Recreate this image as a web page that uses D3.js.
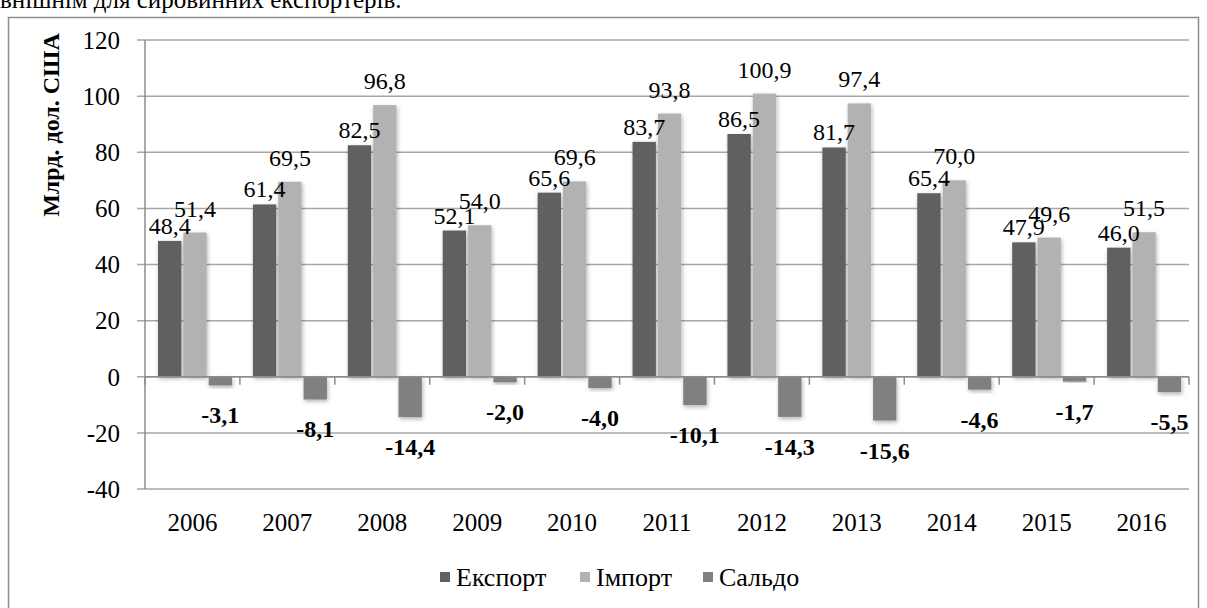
<!DOCTYPE html>
<html>
<head>
<meta charset="utf-8">
<script src="https://cdn.jsdelivr.net/npm/d3@7"></script>
<style>
  body { margin: 0; background: #fff; }
</style>
</head>
<body>
<script>
// chart data
var years = ["2006", "2007", "2008", "2009", "2010", "2011", "2012", "2013", "2014", "2015", "2016"];
var exportVals = [48.4, 61.4, 82.5, 52.1, 65.6, 83.7, 86.5, 81.7, 65.4, 47.9, 46.0];
var importVals = [51.4, 69.5, 96.8, 54.0, 69.6, 93.8, 100.9, 97.4, 70.0, 49.6, 51.5];
var saldoVals = [-3.1, -8.1, -14.4, -2.0, -4.0, -10.1, -14.3, -15.6, -4.6, -1.7, -5.5];
var seriesNames = ["Експорт", "Імпорт", "Сальдо"];
var yTicks = [-40, -20, 0, 20, 40, 60, 80, 100, 120];

var colors = ["#606060", "#b2b2b2", "#808080"];
var W = 1207, H = 608;
var serif = "'Liberation Serif', 'Times New Roman', Times, serif";

var svg = d3.select("body").append("svg")
    .attr("width", W)
    .attr("height", H)
    .style("font-family", serif);

var defs = svg.append("defs");
var f = defs.append("filter").attr("id", "shadow")
    .attr("x", "-30%").attr("y", "-30%").attr("width", "160%").attr("height", "160%");
f.append("feDropShadow")
    .attr("dx", 1).attr("dy", 2).attr("stdDeviation", 2)
    .attr("flood-color", "#000").attr("flood-opacity", 0.3);

// text cut off at the top of the page
svg.append("text")
    .attr("x", 0).attr("y", 8)
    .style("font-size", "25px")
    .text("внішнім для сировинних експортерів.");

// chart frame
svg.append("rect")
    .attr("x", 8.5).attr("y", 17.5)
    .attr("width", 1190).attr("height", 620)
    .attr("fill", "none")
    .attr("stroke", "#8c8c8c")
    .attr("stroke-width", 1.5);

var x = d3.scaleBand().domain(years).range([145, 1189]);
var x1 = d3.scaleBand().domain(seriesNames).range([13, 87]).paddingInner(0.08);
var y = d3.scaleLinear().domain([-40, 120]).range([489, 40]);

// gridlines
svg.append("g").selectAll("line")
  .data(yTicks)
  .enter().append("line")
    .attr("x1", 137).attr("x2", 1189)
    .attr("y1", function(d){ return y(d); })
    .attr("y2", function(d){ return y(d); })
    .attr("stroke", "#a6a6a6")
    .attr("stroke-width", 1.5);

// y axis
svg.append("line")
    .attr("x1", 145).attr("x2", 145)
    .attr("y1", y(120)).attr("y2", y(-40))
    .attr("stroke", "#8c8c8c").attr("stroke-width", 1.5);

svg.append("g").selectAll("text")
  .data(yTicks)
  .enter().append("text")
    .attr("x", 120)
    .attr("y", function(d){ return y(d); })
    .attr("dy", "0.35em")
    .attr("text-anchor", "end")
    .style("font-size", "25px")
    .text(function(d){ return d; });

svg.append("text")
    .attr("transform", "translate(59,125) rotate(-90)")
    .attr("text-anchor", "middle")
    .style("font-size", "24px")
    .style("font-weight", "bold")
    .text("Млрд. дол. США");

// bars
var rows = years.map(function(yr, i){
  return { year: yr, vals: [exportVals[i], importVals[i], saldoVals[i]] };
});

var groups = svg.append("g").selectAll("g")
  .data(rows)
  .enter().append("g")
    .attr("transform", function(d){ return "translate(" + x(d.year) + ",0)"; });

groups.selectAll("rect")
  .data(function(d){ return d.vals.map(function(v, k){ return { k: k, v: v }; }); })
  .enter().append("rect")
    .attr("x", function(d){ return x1(seriesNames[d.k]); })
    .attr("width", x1.bandwidth())
    .attr("y", function(d){ return y(Math.max(0, d.v)); })
    .attr("height", function(d){ return Math.abs(y(d.v) - y(0)); })
    .attr("fill", function(d){ return colors[d.k]; })
    .attr("filter", "url(#shadow)");

// zero axis + category ticks
svg.append("line")
    .attr("x1", 145).attr("x2", 1189)
    .attr("y1", y(0)).attr("y2", y(0))
    .attr("stroke", "#8c8c8c").attr("stroke-width", 1.5);

svg.append("g").selectAll("line")
  .data(years.concat(["end"]))
  .enter().append("line")
    .attr("x1", function(d, i){ return 145 + i * x.step(); })
    .attr("x2", function(d, i){ return 145 + i * x.step(); })
    .attr("y1", y(0)).attr("y2", y(0) + 8)
    .attr("stroke", "#8c8c8c").attr("stroke-width", 1.5);

var fmt = function(v){ return v.toFixed(1).replace(".", ","); };

// value labels
groups.selectAll("text.pos")
  .data(function(d){ return d.vals.slice(0, 2).map(function(v, k){ return { k: k, v: v }; }); })
  .enter().append("text")
    .attr("class", "pos")
    .attr("x", function(d){ return x1(seriesNames[d.k]) + x1.bandwidth() / 2; })
    .attr("y", function(d){ return y(d.v) - (d.k === 0 ? 7 : 16); })
    .attr("text-anchor", "middle")
    .style("font-size", "24px")
    .text(function(d){ return fmt(d.v); });

groups.append("text")
    .attr("x", x1("Сальдо") + x1.bandwidth() / 2)
    .attr("y", function(d){ return y(d.vals[2]) + 38; })
    .attr("text-anchor", "middle")
    .style("font-size", "24px")
    .style("font-weight", "bold")
    .text(function(d){ return fmt(d.vals[2]); });

// year labels
svg.append("g").selectAll("text")
  .data(years)
  .enter().append("text")
    .attr("x", function(d){ return x(d) + x.bandwidth() / 2; })
    .attr("y", 531)
    .attr("text-anchor", "middle")
    .style("font-size", "25px")
    .text(function(d){ return d; });

// legend
var legendX = [440, 580, 703];
var leg = svg.append("g").selectAll("g")
  .data(seriesNames)
  .enter().append("g")
    .attr("transform", function(d, i){ return "translate(" + legendX[i] + ",572)"; });
leg.append("rect")
    .attr("width", 10).attr("height", 10)
    .attr("fill", function(d, i){ return colors[i]; });
leg.append("text")
    .attr("x", 16).attr("y", 14)
    .style("font-size", "26px")
    .text(function(d){ return d; });
</script>
</body>
</html>
